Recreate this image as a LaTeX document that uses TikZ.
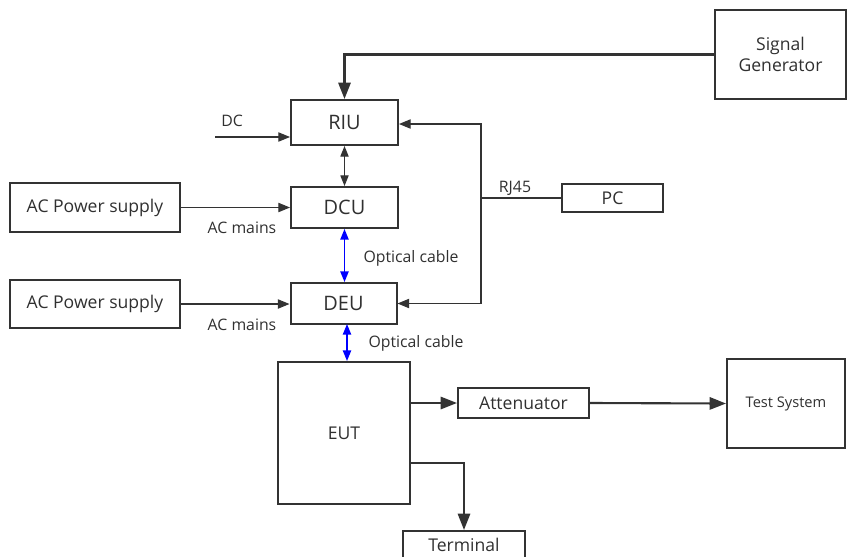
\documentclass[tikz,border=0pt]{standalone}
\usepackage{fontspec}
\setmainfont{Open Sans}
\usepackage{tikz}
\usetikzlibrary{arrows.meta,calc}

\definecolor{linegray}{HTML}{333333}
\definecolor{textgray}{HTML}{303030}

\tikzset{
  box/.style={draw=linegray,line width=1.7pt,inner sep=0pt,text=textgray,font=\fontsize{15}{17}\selectfont},
  thinline/.style={draw=linegray,line width=0.9pt},
  thickline/.style={draw=linegray,line width=1.8pt},
  tip/.style={-{Triangle[length=10pt,width=8pt]}},
  bigtip/.style={-{Triangle[length=14pt,width=10.5pt]}},
  dtip/.style={{Triangle[length=9pt,width=7pt]}-{Triangle[length=9pt,width=7pt]}},
  lbl/.style={text=textgray,font=\fontsize{13.5}{15}\selectfont,inner sep=0pt}
}

\begin{document}
\begin{tikzpicture}[x=0.03cm,y=-0.03cm]
            \useasboundingbox (0,0) rectangle (848,556);
            % boxes
            \node[box,minimum width=131*0.03cm,minimum height=89*0.03cm,align=center] (sg) at (780.5,54.5) {Signal\\[1pt]Generator};
            \node[box,minimum width=107*0.03cm,minimum height=45*0.03cm,font=\fontsize{17}{19}\selectfont] (riu) at (344.5,122.5) {RIU};
            \node[box,minimum width=107*0.03cm,minimum height=41*0.03cm,font=\fontsize{17}{19}\selectfont] (dcu) at (344.5,207.5) {DCU};
            \node[box,minimum width=106*0.03cm,minimum height=41*0.03cm,font=\fontsize{17}{19}\selectfont] (deu) at (343.5,303.5) {DEU};
            \node[box,minimum width=170*0.03cm,minimum height=49*0.03cm] (ac1) at (95,207.5) {AC Power supply};
            \node[box,minimum width=170*0.03cm,minimum height=48*0.03cm] (ac2) at (95,304) {AC Power supply};
            \node[box,minimum width=101*0.03cm,minimum height=28*0.03cm] (pc) at (612.5,198) {PC};
            \node[box,minimum width=132*0.03cm,minimum height=142*0.03cm] (eut) at (344,433) {EUT};
            \node[box,minimum width=131*0.03cm,minimum height=30*0.03cm] (att) at (523.5,403) {Attenuator};
            \node[box,minimum width=118*0.03cm,minimum height=89*0.03cm,font=\fontsize{12.5}{14}\selectfont] (ts) at (786,403.5) {Test System};
            \node[box,minimum width=122*0.03cm,minimum height=28*0.03cm] (term) at (464,545) {Terminal};
            % labels
            \node[lbl] (dclbl) at (232,121) {DC};
            \node[lbl] (acm1) at (242,228) {AC mains};
            \node[lbl] (acm2) at (242,325) {AC mains};
            \node[lbl] (opt1) at (411,258) {Optical cable};
            \node[lbl] (opt2) at (416,343) {Optical cable};
            \node[lbl] (rjlbl) at (515,188) {RJ45};
            % connectors
            \coordinate (dc) at (215,137);
            \coordinate (rj) at (481,198);
            \coordinate (tap) at (410,463);
            \coordinate (fib) at (347,324);
            \draw[thickline,bigtip] (sg.west) -| (riu.north);
            \draw[thinline,tip] (dc) -- (dc -| riu.west);
            \draw[thinline,dtip] (riu.south) -- (dcu.north);
            \draw[thinline,tip] (ac1.east) -- (dcu.west);
            \draw[thinline,tip] (ac2.east) -- (ac2.east -| deu.west);
            \draw[blue,line width=1.2pt,dtip] (dcu.south) -- (dcu.south |- deu.north);
            \draw[blue,line width=1.2pt,dtip] (fib) -- (fib |- eut.north);
            \draw[thinline] (pc.west) -- (rj);
            \draw[thinline,tip] (rj) |- ($(riu.east)+(0,1.5)$);
            \draw[thinline,tip] (rj) |- (deu.east);
            \draw[thickline,bigtip] (eut.east |- att.west) -- (att.west);
            \draw[thickline,bigtip] (att.east) -- (ts.west);
            \draw[thickline,bigtip] (tap) -| (term.north);
          \end{tikzpicture}
\end{document}
